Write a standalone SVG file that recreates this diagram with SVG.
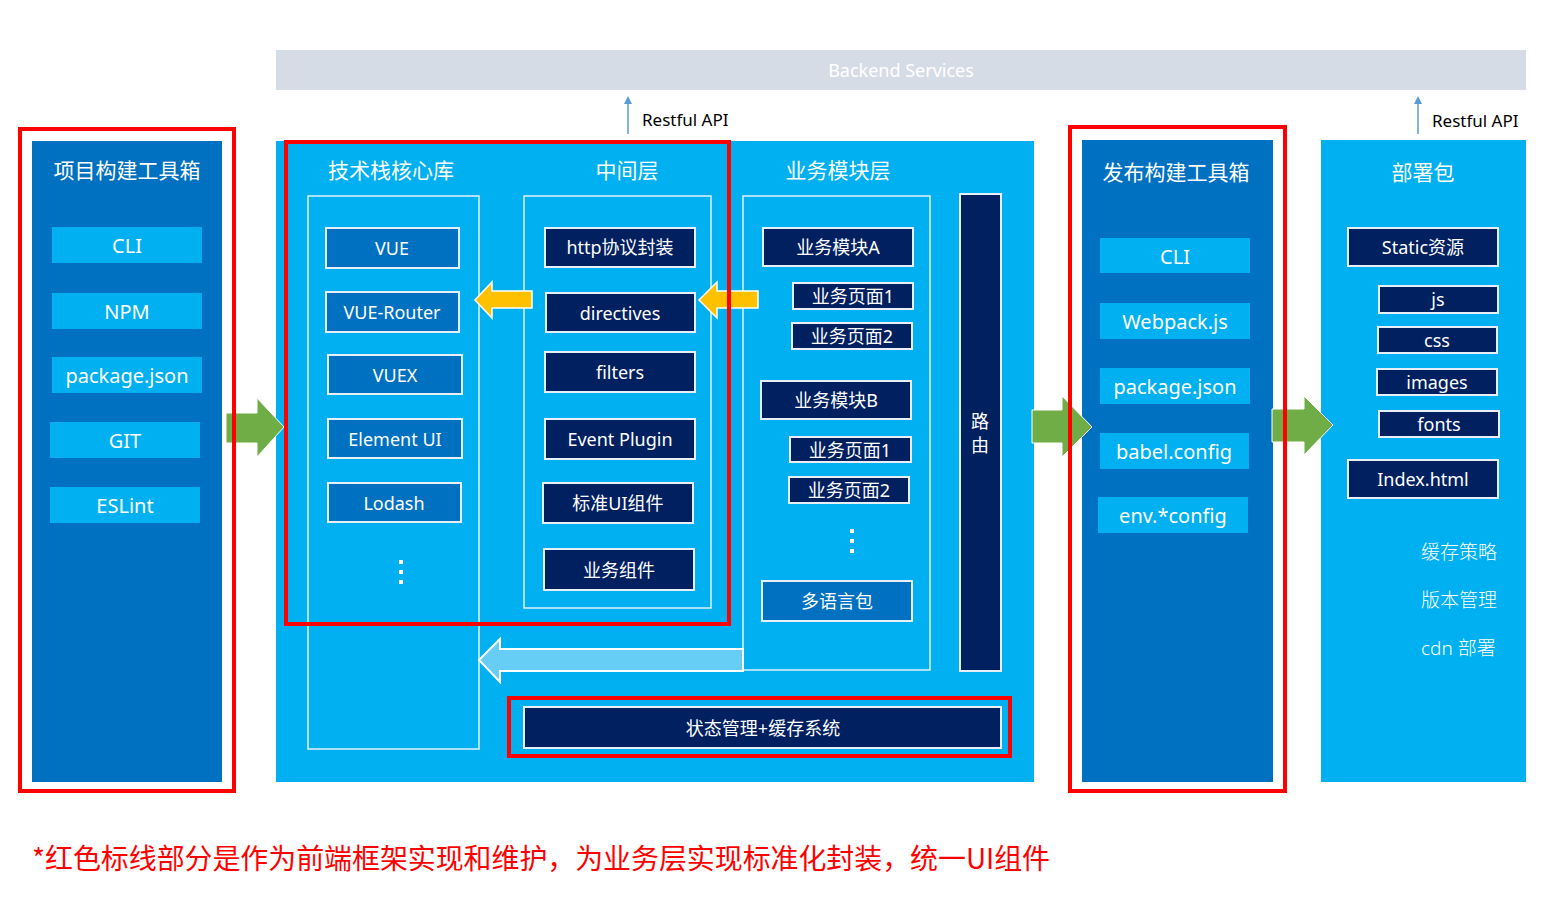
<svg xmlns="http://www.w3.org/2000/svg" width="1552" height="898" viewBox="0 0 1552 898">
<defs>
<style>
.t{font-family:"Noto Sans","Noto Sans CJK SC",sans-serif;fill:#ffffff;text-anchor:middle;dominant-baseline:central}
.title{font-size:21px}
.item{font-size:20px}
.sm{font-size:18px}
.navy{fill:#002060;stroke:#e6eef6;stroke-width:2}
.mid{fill:#0070c0;stroke:#e6eef6;stroke-width:2}
.cyan{fill:#00b0f0}
.frame{fill:none;stroke:#dff2fb;stroke-width:1.5}
.red{fill:none;stroke:#ff0000;stroke-width:4}
.green{fill:#70ad47;stroke:#ffffff;stroke-width:1}
.yellow{fill:#ffc000;stroke:#ffffff;stroke-width:1.5}
.api{stroke:#5b9bd5;stroke-width:1.5;fill:none}
.lbl{font-family:"Noto Sans","Noto Sans CJK SC",sans-serif;font-size:17px;fill:#000000;dominant-baseline:central}
.note{font-family:"Noto Sans","Noto Sans CJK SC",sans-serif;font-size:19px;fill:#ffffff;font-weight:300;dominant-baseline:central}
</style>
<marker id="ah" markerWidth="8" markerHeight="8" refX="4" refY="4" orient="auto" markerUnits="userSpaceOnUse">
<path d="M0,8 L4,0 L8,8 Z" fill="#5b9bd5" transform="rotate(90 4 4)"/>
</marker>
</defs>
<rect width="1552" height="898" fill="#ffffff"/>

<g id="backend">
<rect x="276" y="50" width="1250" height="40" fill="#d6dce5"/>
<text class="t sm" x="901" y="70">Backend Services</text>
</g>

<g id="build-toolbox">
<rect x="32" y="141" width="190" height="641" fill="#0070c0"/>
<text class="t title" x="127" y="170">项目构建工具箱</text>
<rect class="cyan" x="52" y="227" width="150" height="36"/><text class="t item" x="127" y="245">CLI</text>
<rect class="cyan" x="52" y="293" width="150" height="36"/><text class="t item" x="127" y="311">NPM</text>
<rect class="cyan" x="52" y="357" width="150" height="36"/><text class="t item" x="127" y="375">package.json</text>
<rect class="cyan" x="50" y="422" width="150" height="36"/><text class="t item" x="125" y="440">GIT</text>
<rect class="cyan" x="50" y="487" width="150" height="36"/><text class="t item" x="125" y="505">ESLint</text>
</g>

<g id="frontend-panel">
<rect x="276" y="141" width="758" height="641" fill="#00b0f0"/>
<text class="t title" x="391" y="170">技术栈核心库</text>
<text class="t title" x="627" y="170">中间层</text>
<text class="t title" x="838" y="170">业务模块层</text>
<rect class="frame" x="308" y="196" width="171" height="553"/>
<rect class="frame" x="524" y="196" width="187" height="412"/>
<rect class="frame" x="743" y="196" width="187" height="474"/>
</g>

<g id="core-libs">
<rect class="mid" x="326" y="228" width="133" height="40"/><text class="t sm" x="392" y="248">VUE</text>
<rect class="mid" x="326" y="292" width="133" height="40"/><text class="t sm" x="392" y="312">VUE-Router</text>
<rect class="mid" x="328" y="355" width="134" height="39"/><text class="t sm" x="395" y="375">VUEX</text>
<rect class="mid" x="328" y="419" width="134" height="39"/><text class="t sm" x="395" y="439">Element UI</text>
<rect class="mid" x="328" y="483" width="133" height="39"/><text class="t sm" x="394" y="503">Lodash</text>
<rect x="399" y="560" width="4" height="4" fill="#ffffff"/>
<rect x="399" y="570" width="4" height="4" fill="#ffffff"/>
<rect x="399" y="580" width="4" height="4" fill="#ffffff"/>
</g>

<g id="middle-layer">
<rect class="navy" x="545" y="228" width="150" height="39"/><text class="t sm" x="620" y="247">http协议封装</text>
<rect class="navy" x="546" y="293" width="149" height="39"/><text class="t sm" x="620" y="313">directives</text>
<rect class="navy" x="545" y="352" width="150" height="40"/><text class="t sm" x="620" y="372">filters</text>
<rect class="navy" x="545" y="419" width="150" height="40"/><text class="t sm" x="620" y="439">Event Plugin</text>
<rect class="navy" x="543" y="483" width="150" height="40"/><text class="t sm" x="618" y="503">标准UI组件</text>
<rect class="navy" x="544" y="549" width="150" height="41"/><text class="t sm" x="619" y="570">业务组件</text>
</g>

<g id="business-layer">
<rect class="navy" x="763" y="228" width="150" height="38"/><text class="t sm" x="838" y="247">业务模块A</text>
<rect class="navy" x="793" y="283" width="120" height="26"/><text class="t sm" x="853" y="296">业务页面1</text>
<rect class="navy" x="792" y="323" width="120" height="26"/><text class="t sm" x="852" y="336">业务页面2</text>
<rect class="navy" x="761" y="381" width="150" height="38"/><text class="t sm" x="836" y="400">业务模块B</text>
<rect class="navy" x="790" y="437" width="121" height="25"/><text class="t sm" x="850" y="450">业务页面1</text>
<rect class="navy" x="789" y="477" width="120" height="26"/><text class="t sm" x="849" y="490">业务页面2</text>
<rect x="850" y="529" width="4" height="4" fill="#ffffff"/>
<rect x="850" y="539" width="4" height="4" fill="#ffffff"/>
<rect x="850" y="549" width="4" height="4" fill="#ffffff"/>
<rect class="mid" x="762" y="581" width="150" height="40"/><text class="t sm" x="837" y="601">多语言包</text>
</g>

<g id="router">
<rect class="navy" x="960" y="194" width="41" height="477"/>
<text class="t sm" x="980" y="421">路</text>
<text class="t sm" x="980" y="445">由</text>
</g>

<g id="state-cache">
<rect class="navy" x="524" y="707" width="477" height="41"/>
<text class="t sm" x="763" y="728">状态管理+缓存系统</text>
</g>

<g id="release-toolbox">
<rect x="1082" y="140" width="191" height="642" fill="#0070c0"/>
<text class="t title" x="1176" y="172">发布构建工具箱</text>
<rect class="cyan" x="1100" y="238" width="150" height="35"/><text class="t item" x="1175" y="256">CLI</text>
<rect class="cyan" x="1100" y="303" width="150" height="36"/><text class="t item" x="1175" y="321">Webpack.js</text>
<rect class="cyan" x="1100" y="368" width="150" height="36"/><text class="t item" x="1175" y="386">package.json</text>
<rect class="cyan" x="1100" y="433" width="149" height="36"/><text class="t item" x="1174" y="451">babel.config</text>
<rect class="cyan" x="1098" y="497" width="150" height="36"/><text class="t item" x="1173" y="515">env.*config</text>
</g>

<g id="deploy-package">
<rect x="1321" y="140" width="205" height="642" fill="#00b0f0"/>
<text class="t title" x="1423" y="172">部署包</text>
<rect class="navy" x="1348" y="228" width="150" height="38"/><text class="t sm" x="1423" y="247">Static资源</text>
<rect class="navy" x="1379" y="286" width="119" height="27"/><text class="t sm" x="1438" y="299">js</text>
<rect class="navy" x="1378" y="327" width="119" height="26"/><text class="t sm" x="1437" y="340">css</text>
<rect class="navy" x="1377" y="369" width="120" height="26"/><text class="t sm" x="1437" y="382">images</text>
<rect class="navy" x="1379" y="411" width="120" height="26"/><text class="t sm" x="1439" y="424">fonts</text>
<rect class="navy" x="1348" y="460" width="150" height="38"/><text class="t sm" x="1423" y="479">Index.html</text>
<text class="note" x="1421" y="552">缓存策略</text>
<text class="note" x="1421" y="600">版本管理</text>
<text class="note" x="1421" y="648">cdn 部署</text>
</g>

<g id="connectors">
<line class="api" x1="628" y1="134" x2="628" y2="100" marker-end="url(#ah)"/>
<text class="lbl" x="642" y="119">Restful API</text>
<line class="api" x1="1418" y1="134" x2="1418" y2="100" marker-end="url(#ah)"/>
<text class="lbl" x="1432" y="120">Restful API</text>
<polygon class="green" points="226,413 257,413 257,398 284,427 257,457 257,443 226,443"/>
<polygon class="green" points="1032,410 1062,410 1062,396 1092,427 1062,457 1062,443 1032,443"/>
<polygon class="green" points="1272,409 1304,409 1304,396 1333,425 1304,455 1304,442 1272,442"/>
<polygon class="yellow" points="532,291 492,291 492,282 475,300 492,318 492,308 532,308"/>
<polygon class="yellow" points="758,291 717,291 717,282 699,300 717,318 717,308 758,308"/>
<polygon points="743,649 500,649 500,639 479,660 500,682 500,671 743,671" fill="#66cdf5" stroke="#ffffff" stroke-width="2"/>
</g>

<g id="highlights">
<rect class="red" x="20" y="129" width="214" height="662"/>
<rect class="red" x="286" y="142" width="443" height="482"/>
<rect class="red" x="509" y="698" width="501" height="58"/>
<rect class="red" x="1070" y="127" width="215" height="664"/>
</g>

<g id="footnote">
<text x="32" y="857" font-family="Noto Sans CJK SC, sans-serif" font-size="28" fill="#ff0000" dominant-baseline="central" textLength="1018" lengthAdjust="spacingAndGlyphs">*红色标线部分是作为前端框架实现和维护，为业务层实现标准化封装，统一UI组件</text>
</g>
</svg>
